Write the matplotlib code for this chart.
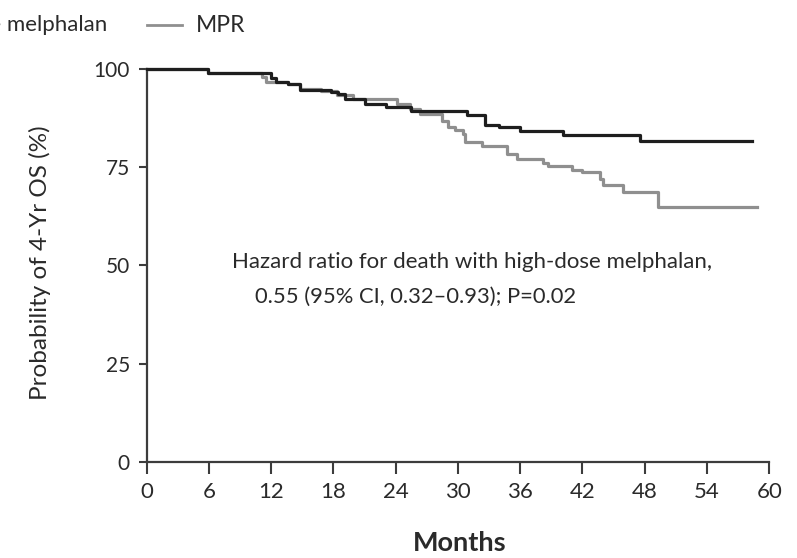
import matplotlib.pyplot as plt
from matplotlib.lines import Line2D

plt.rcParams['font.family'] = ['Lato', 'DejaVu Sans']

# Kaplan-Meier steps: event times (months) and survival (%) after each step
hd_months = [0, 5.9, 12.0, 12.5, 13.6, 14.8, 17.8, 18.4, 19.1, 21.0, 23.1, 25.5,
             30.9, 32.6, 34.0, 36.0, 40.1, 47.5, 58.3]
hd_surv = [100, 99.1, 97.6, 96.6, 96.2, 94.7, 94.2, 93.6, 92.3, 91.2, 90.4, 89.4,
           88.3, 85.7, 85.3, 84.2, 83.2, 81.7, 81.7]

mpr_months = [0, 5.9, 11.1, 11.5, 13.6, 14.8, 16.8, 18.3, 19.9, 24.1, 25.4, 26.3,
              28.5, 29.0, 29.7, 30.5, 30.7, 32.3, 34.7, 35.7, 38.2, 38.7, 41.0,
              42.0, 43.7, 44.0, 45.9, 49.3, 58.8]
mpr_surv = [100, 99.1, 98.0, 96.8, 96.2, 95.0, 94.5, 93.5, 92.3, 91.0, 89.8, 88.5,
            86.7, 85.3, 84.5, 83.4, 81.3, 80.4, 78.3, 77.1, 76.0, 75.2, 74.3,
            73.7, 72.1, 70.5, 68.8, 64.9, 64.9]

x_ticks = list(range(0, 61, 6))
y_ticks = [0, 25, 50, 75, 100]

black = '#1e1e1e'
grey = '#8f8f8f'
axis_col = '#3c3c3c'
text_col = '#2a2a2a'

fig = plt.figure(figsize=(7.97, 5.58), dpi=100)
ax = fig.add_axes([0.184, 0.1726, 0.7812, 0.7037])

ax.step(mpr_months, mpr_surv, where='post', color=grey, lw=2.3, clip_on=False, zorder=3)
ax.step(hd_months, hd_surv, where='post', color=black, lw=2.3, clip_on=False, zorder=4)

ax.set_xlim(0, 60)
ax.set_ylim(0, 100)
ax.set_xticks(x_ticks)
ax.set_yticks(y_ticks)
for s in ['top', 'right']:
    ax.spines[s].set_visible(False)
for s in ['left', 'bottom']:
    ax.spines[s].set_color(axis_col)
    ax.spines[s].set_linewidth(1.6)
ax.tick_params(axis='x', direction='out', length=8.5, width=1.5, color=axis_col,
               labelsize=16, labelcolor=text_col, pad=6)
ax.tick_params(axis='y', direction='out', length=6, width=1.5, color=axis_col,
               labelsize=15, labelcolor=text_col, pad=6)

ax.text(8.2, 50.8, 'Hazard ratio for death with high-dose melphalan,',
        fontsize=16, color=text_col, va='center', ha='left')
ax.text(10.4, 41.9, '0.55 (95% CI, 0.32\u20130.93); P=0.02',
        fontsize=15.8, color=text_col, va='center', ha='left')

fig.text(40 / 797, 1 - 262.5 / 558, 'Probability of 4-Yr OS (%)', rotation=90,
         ha='center', va='center', fontsize=17.5, color=text_col)
fig.text(460 / 797, 1 - 543 / 558, 'Months', ha='center', va='center',
         fontsize=19.5, fontweight='bold', color=text_col)

# legend row along the top edge
ly = 1 - 25 / 558
fig.add_artist(Line2D([-0.35, -0.30], [ly, ly], color=black, lw=2, transform=fig.transFigure))
fig.text(107 / 797, ly, 'High-dose melphalan', ha='right', va='center',
         fontsize=16, color=text_col)
fig.add_artist(Line2D([147 / 797, 182 / 797], [ly, ly], color=grey, lw=2,
                      transform=fig.transFigure))
fig.text(196 / 797, ly, 'MPR', ha='left', va='center', fontsize=16.5, color=text_col)

fig.savefig('out.png', dpi=100)
